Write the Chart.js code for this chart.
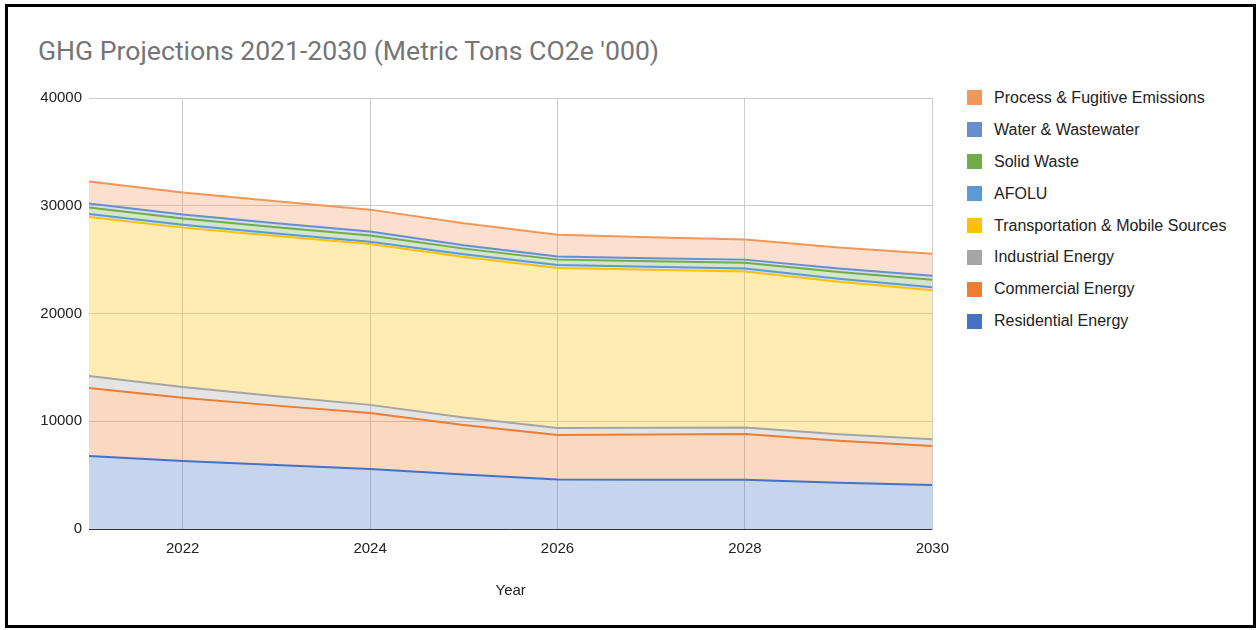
<!DOCTYPE html>
<html>
<head>
<meta charset="utf-8">
<script src="https://cdn.jsdelivr.net/npm/chart.js@4/dist/chart.umd.min.js"></script>
<style>
  html, body { margin: 0; padding: 0; background: #fff; }
  body { width: 1259px; height: 630px; position: relative; overflow: hidden; font-family: "Liberation Sans", Arial, sans-serif; }
  #frame { position: absolute; left: 5px; top: 4px; width: 1251px; height: 624px; box-sizing: border-box; border: 3px solid #000; }
  #title { position: absolute; left: 38px; top: 35px; font-family: Roboto, "Liberation Sans", sans-serif; font-size: 26.6px; color: #757575; white-space: nowrap; line-height: 32px; }
  #chartBox { position: absolute; left: 0; top: 0; width: 960px; height: 630px; }
  #legend { position: absolute; left: 967px; top: 82px; }
  .item { height: 31.9px; display: flex; align-items: center; font-size: 16px; color: #222; white-space: nowrap; }
  .item .sw { width: 15px; height: 15px; margin-right: 12px; }
</style>
</head>
<body>
<div id="frame"></div>
<div id="title">GHG Projections 2021-2030 (Metric Tons CO2e '000)</div>
<div id="chartBox"><canvas id="c" width="960" height="630"></canvas></div>
<div id="legend"></div>
<script>
// Projection years and emissions by sector (metric tons CO2e, thousands)
const years = [2021, 2022, 2023, 2024, 2025, 2026, 2027, 2028, 2029, 2030];
const xTickYears = [2022, 2024, 2026, 2028, 2030];
const yTickValues = [0, 10000, 20000, 30000, 40000];

const residential    = [6780, 6320, 5950, 5570, 5050, 4600, 4580, 4560, 4300, 4080];
const commercial     = [6300, 5850, 5500, 5200, 4600, 4120, 4200, 4250, 3900, 3620];
const industrial     = [1120, 1000, 870, 750, 700, 650, 620, 600, 600, 620];
const transportation = [14750, 14800, 14870, 14940, 14900, 14850, 14650, 14480, 14150, 13830];
const afolu          = [280, 260, 230, 200, 240, 280, 280, 280, 280, 280];
const solidWaste     = [600, 590, 580, 570, 530, 500, 520, 550, 620, 700];
const water          = [370, 370, 370, 370, 320, 280, 280, 280, 330, 370];
const processFugitive = [2040, 2040, 2040, 2040, 2040, 2040, 1950, 1860, 1950, 2040];

// Stacking order, bottom to top
const series = [
  { name: 'Residential Energy', values: residential, color: '#4472C4' },
  { name: 'Commercial Energy', values: commercial, color: '#ED7D31' },
  { name: 'Industrial Energy', values: industrial, color: '#A5A5A5' },
  { name: 'Transportation & Mobile Sources', values: transportation, color: '#FFC000' },
  { name: 'AFOLU', values: afolu, color: '#5B9BD5' },
  { name: 'Solid Waste', values: solidWaste, color: '#70AD47' },
  { name: 'Water & Wastewater', values: water, color: '#698ED0' },
  { name: 'Process & Fugitive Emissions', values: processFugitive, color: '#F1975A' }
];

function withAlpha(hex, a) {
  const n = parseInt(hex.slice(1), 16);
  return `rgba(${(n >> 16) & 255}, ${(n >> 8) & 255}, ${n & 255}, ${a})`;
}

const datasets = series.map((s, i) => ({
  label: s.name,
  data: years.map((yr, j) => ({ x: yr, y: s.values[j] })),
  borderColor: s.color,
  backgroundColor: withAlpha(s.color, 0.3),
  borderWidth: 2,
  pointRadius: 0,
  tension: 0,
  fill: i === 0 ? 'origin' : '-1'
}));

const tickFont = { family: '"Liberation Sans", Arial, sans-serif', size: 15 };

new Chart(document.getElementById('c'), {
  type: 'line',
  data: { datasets },
  options: {
    responsive: false,
    animation: false,
    layout: { padding: { left: 0, top: 98, right: 27, bottom: 29 } },
    plugins: { legend: { display: false }, tooltip: { enabled: false }, title: { display: false } },
    scales: {
      x: {
        type: 'linear',
        min: years[0],
        max: years[years.length - 1],
        afterBuildTicks: (scale) => { scale.ticks = xTickYears.map(v => ({ value: v })); },
        afterFit: (scale) => { scale.height = 72; },
        ticks: { color: '#222', font: tickFont, padding: 11, maxRotation: 0, callback: (v) => String(v) },
        grid: { color: '#cccccc', drawTicks: false },
        border: { display: false },
        title: { display: true, text: 'Year', color: '#222', font: tickFont, padding: { top: 0, bottom: 1 } }
      },
      y: {
        stacked: true,
        min: 0,
        max: 40000,
        afterBuildTicks: (scale) => { scale.ticks = yTickValues.map(v => ({ value: v })); },
        afterFit: (scale) => { scale.width = 89; },
        ticks: { color: '#222', font: tickFont, padding: 7, callback: (v) => String(v) },
        grid: { color: (ctx) => (ctx.tick && ctx.tick.value === 0 ? '#333333' : '#cccccc'), drawTicks: false },
        border: { display: false }
      }
    }
  }
});

// Legend, listed top to bottom in reverse stacking order
const legend = document.getElementById('legend');
series.slice().reverse().forEach(s => {
  const row = document.createElement('div');
  row.className = 'item';
  const sw = document.createElement('span');
  sw.className = 'sw';
  sw.style.background = s.color;
  const tx = document.createElement('span');
  tx.textContent = s.name;
  row.appendChild(sw);
  row.appendChild(tx);
  legend.appendChild(row);
});
</script>
</body>
</html>
